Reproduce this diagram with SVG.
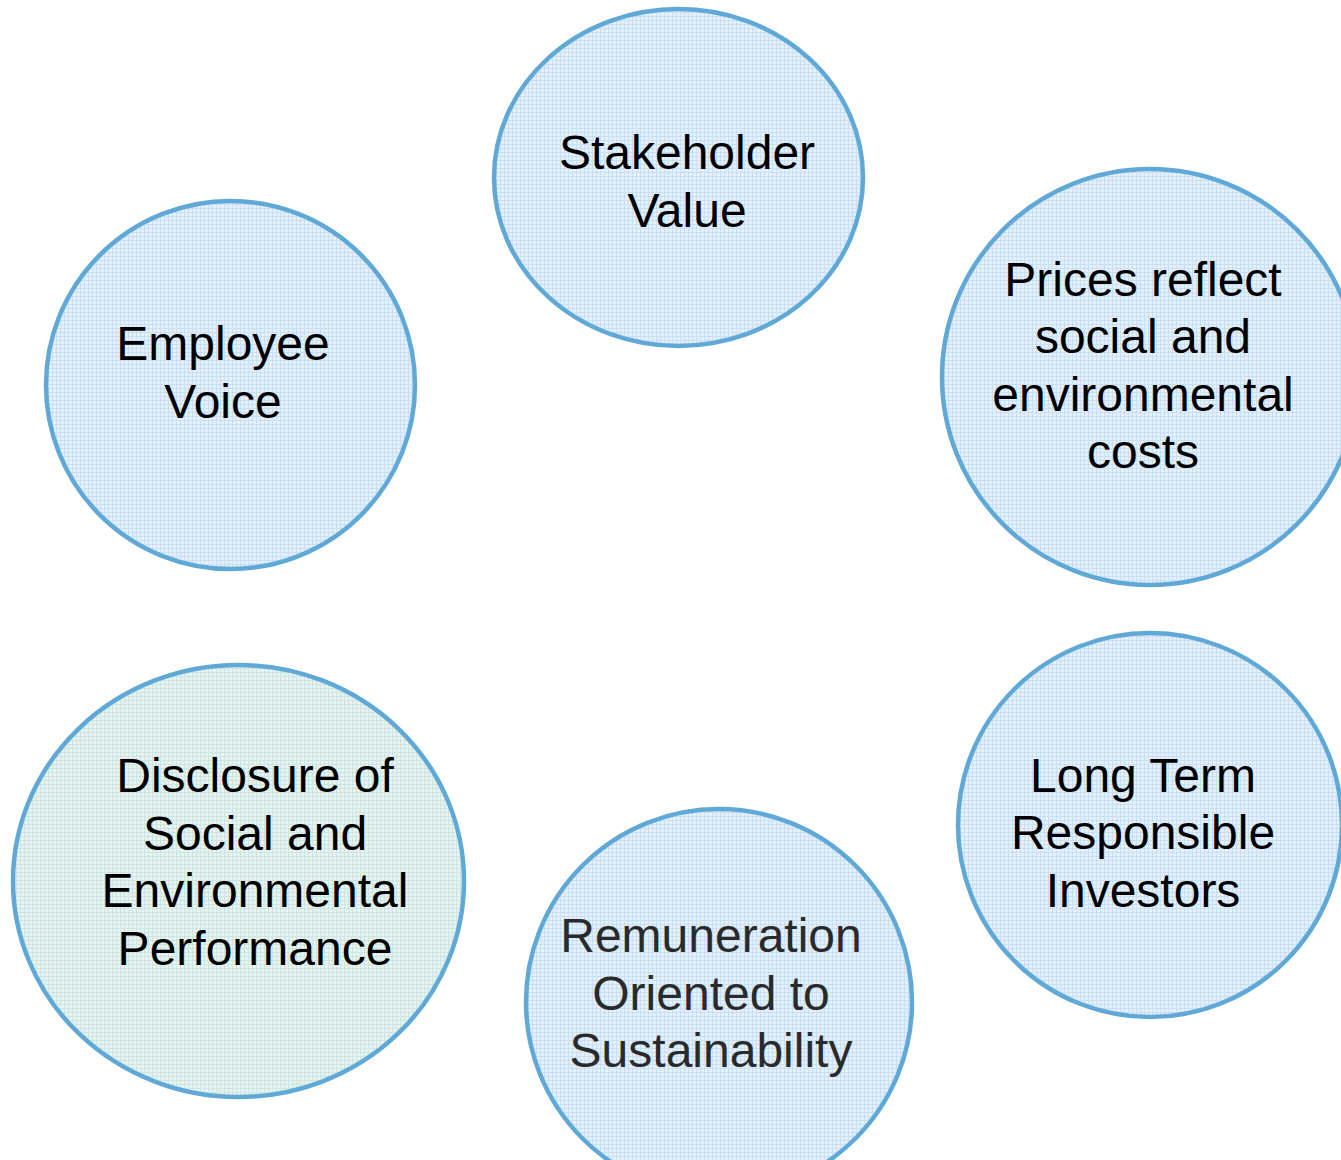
<svg xmlns="http://www.w3.org/2000/svg" width="1341" height="1160" viewBox="0 0 1341 1160">
<defs>
<pattern id="gb" width="4" height="4" patternUnits="userSpaceOnUse">
<rect width="4" height="4" fill="#e4f0fb"/>
<path d="M0 0.5H4M0.5 0V4" stroke="#c9e0f4" stroke-width="1"/>
</pattern>
<pattern id="gg" width="4" height="4" patternUnits="userSpaceOnUse">
<rect width="4" height="4" fill="#e6f3f1"/>
<path d="M0 0.5H4M0.5 0V4" stroke="#cde6e2" stroke-width="1"/>
</pattern>
</defs>
<style>
.c{fill:url(#gb);stroke:#60a9d7;stroke-width:4.5}
.g{fill:url(#gg);stroke:#60a9d7;stroke-width:4.5}
text{font-family:"Liberation Sans",Arial,sans-serif;font-size:48px;fill:#000;text-anchor:middle}
.gray{fill:#2a2a2a}
</style>
<rect width="1341" height="1160" fill="#fff"/>
<g id="connectors"></g>
<g id="stakeholder">
<ellipse class="c" cx="678.5" cy="177.5" rx="184.5" ry="168.5"/>
<text x="687" y="169">Stakeholder</text>
<text x="687" y="227">Value</text>
</g>
<g id="employee">
<ellipse class="c" cx="230.5" cy="385" rx="184.5" ry="184"/>
<text x="223" y="360">Employee</text>
<text x="223" y="418">Voice</text>
</g>
<g id="prices">
<ellipse class="c" cx="1150" cy="377" rx="208" ry="208"/>
<text x="1143" y="296">Prices reflect</text>
<text x="1143" y="353">social and</text>
<text x="1143" y="411">environmental</text>
<text x="1143" y="468">costs</text>
</g>
<g id="longterm">
<ellipse class="c" cx="1150" cy="825" rx="192" ry="192"/>
<text x="1143" y="792">Long Term</text>
<text x="1143" y="849">Responsible</text>
<text x="1143" y="907">Investors</text>
</g>
<g id="remuneration">
<ellipse class="c" cx="719" cy="1002" rx="193" ry="193"/>
<text class="gray" x="711" y="952">Remuneration</text>
<text class="gray" x="711" y="1010">Oriented to</text>
<text class="gray" x="711" y="1067">Sustainability</text>
</g>
<g id="disclosure">
<ellipse class="g" cx="238.5" cy="881" rx="225.5" ry="216"/>
<text x="255" y="792">Disclosure of</text>
<text x="255" y="850">Social and</text>
<text x="255" y="907">Environmental</text>
<text x="255" y="965">Performance</text>
</g>
</svg>
